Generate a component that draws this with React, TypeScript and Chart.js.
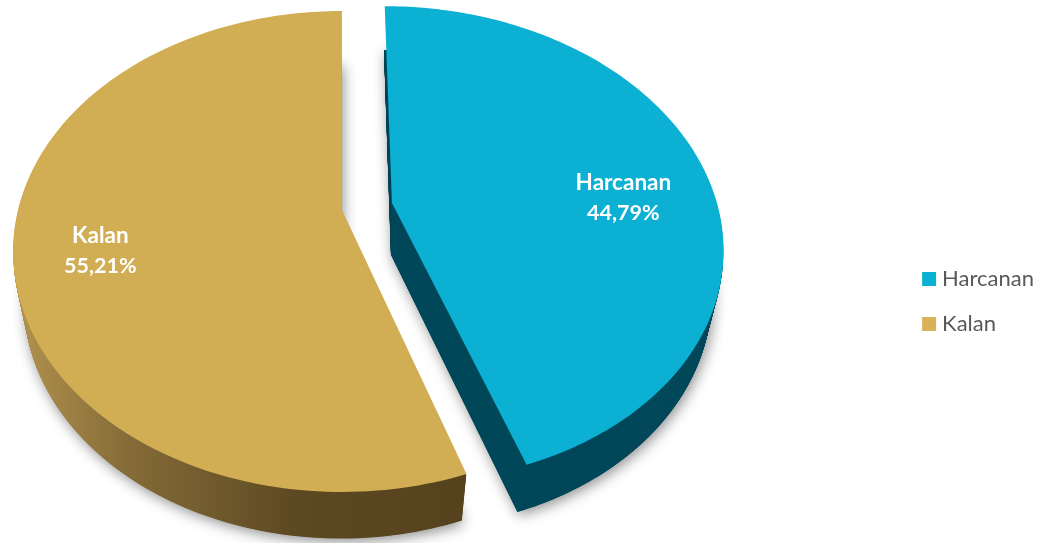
import React, { useEffect, useRef } from "react";
import { Chart, registerables } from "chart.js";

Chart.register(...registerables);

const categories = ["Harcanan", "Kalan"];
const shareValues = [44.79, 55.21];
const legendColors = ["#0BB1D3", "#D9B257"];
const faceColors = ["#0BB0D2", "#D1AD53"];

const FONT = "Lato, Carlito, sans-serif";

type Plane = { dx: number; dy: number; rx: number; ry: number; k: number; s: number };
type Look = { top: Plane; bottom: Plane; labelR: number; labelDy: number };

const looks: Look[] = [
  {
    top: { dx: -60.1, dy: -98.5, rx: 325, ry: 231, k: 0.1735, s: -8.5 },
    bottom: { dx: -61.1, dy: -46.5, rx: 316, ry: 234.5, k: 0.144, s: -8 },
    labelR: 0.74,
    labelDy: 22,
  },
  {
    top: { dx: -110.1, dy: -91.5, rx: 324, ry: 233.3, k: 0.1726, s: 0 },
    bottom: { dx: -111.1, dy: -43.5, rx: 312, ry: 230, k: 0.18, s: 0 },
    labelR: 0.74,
    labelDy: 12,
  },
];

const mix = (a: number, b: number, f: number) => a + (b - a) * f;
const mixPlane = (a: Plane, b: Plane, f: number): Plane => ({
  dx: mix(a.dx, b.dx, f),
  dy: mix(a.dy, b.dy, f),
  rx: mix(a.rx, b.rx, f),
  ry: mix(a.ry, b.ry, f),
  k: mix(a.k, b.k, f),
  s: mix(a.s, b.s, f),
});

function project(arc: any, p: Plane, turn: number, r: number) {
  const unit = arc.outerRadius / 241.5;
  const u = Math.sin(turn) * r;
  const v = Math.cos(turn) * r;
  const w = 1 + p.k * v;
  return {
    x: arc.x + (p.dx + (p.rx * u + p.s * v) / w) * unit,
    y: arc.y + (p.dy - (p.ry * v) / w) * unit,
  };
}

function slicePath(ctx: CanvasRenderingContext2D, arc: any, p: Plane) {
  const a0 = arc.startAngle + Math.PI / 2;
  const a1 = arc.endAngle + Math.PI / 2;
  const apex = project(arc, p, 0, 0);
  ctx.beginPath();
  ctx.moveTo(apex.x, apex.y);
  const steps = 160;
  for (let i = 0; i <= steps; i++) {
    const q = project(arc, p, a0 + ((a1 - a0) * i) / steps, 1);
    ctx.lineTo(q.x, q.y);
  }
  ctx.closePath();
}

function sidePaint(ctx: CanvasRenderingContext2D, arc: any, i: number) {
  if (i === 0) return "#02485A";
  const unit = arc.outerRadius / 241.5;
  const g = ctx.createLinearGradient(arc.x - 427 * unit, 0, arc.x + 9 * unit, 0);
  g.addColorStop(0, "#AE8F4C");
  g.addColorStop(0.24, "#846B37");
  g.addColorStop(0.63, "#5C4821");
  g.addColorStop(1, "#56431E");
  return g;
}

const pie3d = {
  id: "pie3d",
  beforeDatasetDraw(chart: any) {
    const ctx: CanvasRenderingContext2D = chart.ctx;
    const arcs = chart.getDatasetMeta(0).data;
    arcs.forEach((arc: any, i: number) => {
      const look = looks[i];
      const paint = sidePaint(ctx, arc, i);
      ctx.save();
      ctx.fillStyle = paint;
      ctx.shadowColor = "rgba(0,0,0,0.45)";
      ctx.shadowBlur = 14;
      ctx.shadowOffsetX = 2;
      ctx.shadowOffsetY = 3;
      slicePath(ctx, arc, look.bottom);
      ctx.fill();
      ctx.restore();
      // The wall only exists below the far rim of the lower contour.
      const farRim = project(arc, look.bottom, 0, 1).y;
      ctx.save();
      ctx.beginPath();
      ctx.rect(0, farRim, chart.width, chart.height - farRim);
      ctx.clip();
      ctx.fillStyle = paint;
      const layers = 120;
      for (let n = 1; n <= layers; n++) {
        slicePath(ctx, arc, mixPlane(look.bottom, look.top, (n / layers) * 0.97));
        ctx.fill();
      }
      ctx.restore();
      ctx.save();
      ctx.fillStyle = faceColors[i];
      slicePath(ctx, arc, look.top);
      ctx.fill();
      ctx.restore();
    });
    return false;
  },
  afterDatasetsDraw(chart: any) {
    const ctx: CanvasRenderingContext2D = chart.ctx;
    const arcs = chart.getDatasetMeta(0).data;
    arcs.forEach((arc: any, i: number) => {
      const look = looks[i];
      const mid = (arc.startAngle + arc.endAngle) / 2 + Math.PI / 2;
      const c = project(arc, look.top, mid, look.labelR);
      ctx.save();
      ctx.fillStyle = "#FFFFFF";
      ctx.textAlign = "center";
      ctx.textBaseline = "middle";
      ctx.font = `bold 22.5px ${FONT}`;
      ctx.fillText(categories[i], c.x, c.y - 15 + look.labelDy);
      ctx.font = `bold 21.5px ${FONT}`;
      ctx.fillText(
        shareValues[i].toFixed(2).replace(".", ",") + "%",
        c.x,
        c.y + 15 + look.labelDy
      );
      ctx.restore();
    });
  },
};

export default function App() {
  const ref = useRef<HTMLCanvasElement>(null);
  useEffect(() => {
    if (!ref.current) return;
    const chart = new Chart(ref.current, {
      type: "pie",
      data: {
        labels: categories,
        datasets: [{ data: shareValues, backgroundColor: legendColors, borderWidth: 0 }],
      },
      options: {
        responsive: false,
        animation: false,
        layout: { padding: { top: 60, right: 4 } },
        plugins: {
          tooltip: { enabled: false },
          legend: {
            position: "right",
            labels: {
              usePointStyle: true,
              pointStyle: "rect",
              boxWidth: 4,
              boxHeight: 14,
              padding: 23,
              color: "#595959",
              font: { family: FONT, size: 22 },
            },
          },
        },
      },
      plugins: [pie3d],
    } as any);
    return () => chart.destroy();
  }, []);
  return (
    <div style={{ position: "fixed", left: 0, top: 0, width: 1048, height: 543 }}>
      <canvas ref={ref} width={1048} height={543} style={{ display: "block" }} />
    </div>
  );
}
